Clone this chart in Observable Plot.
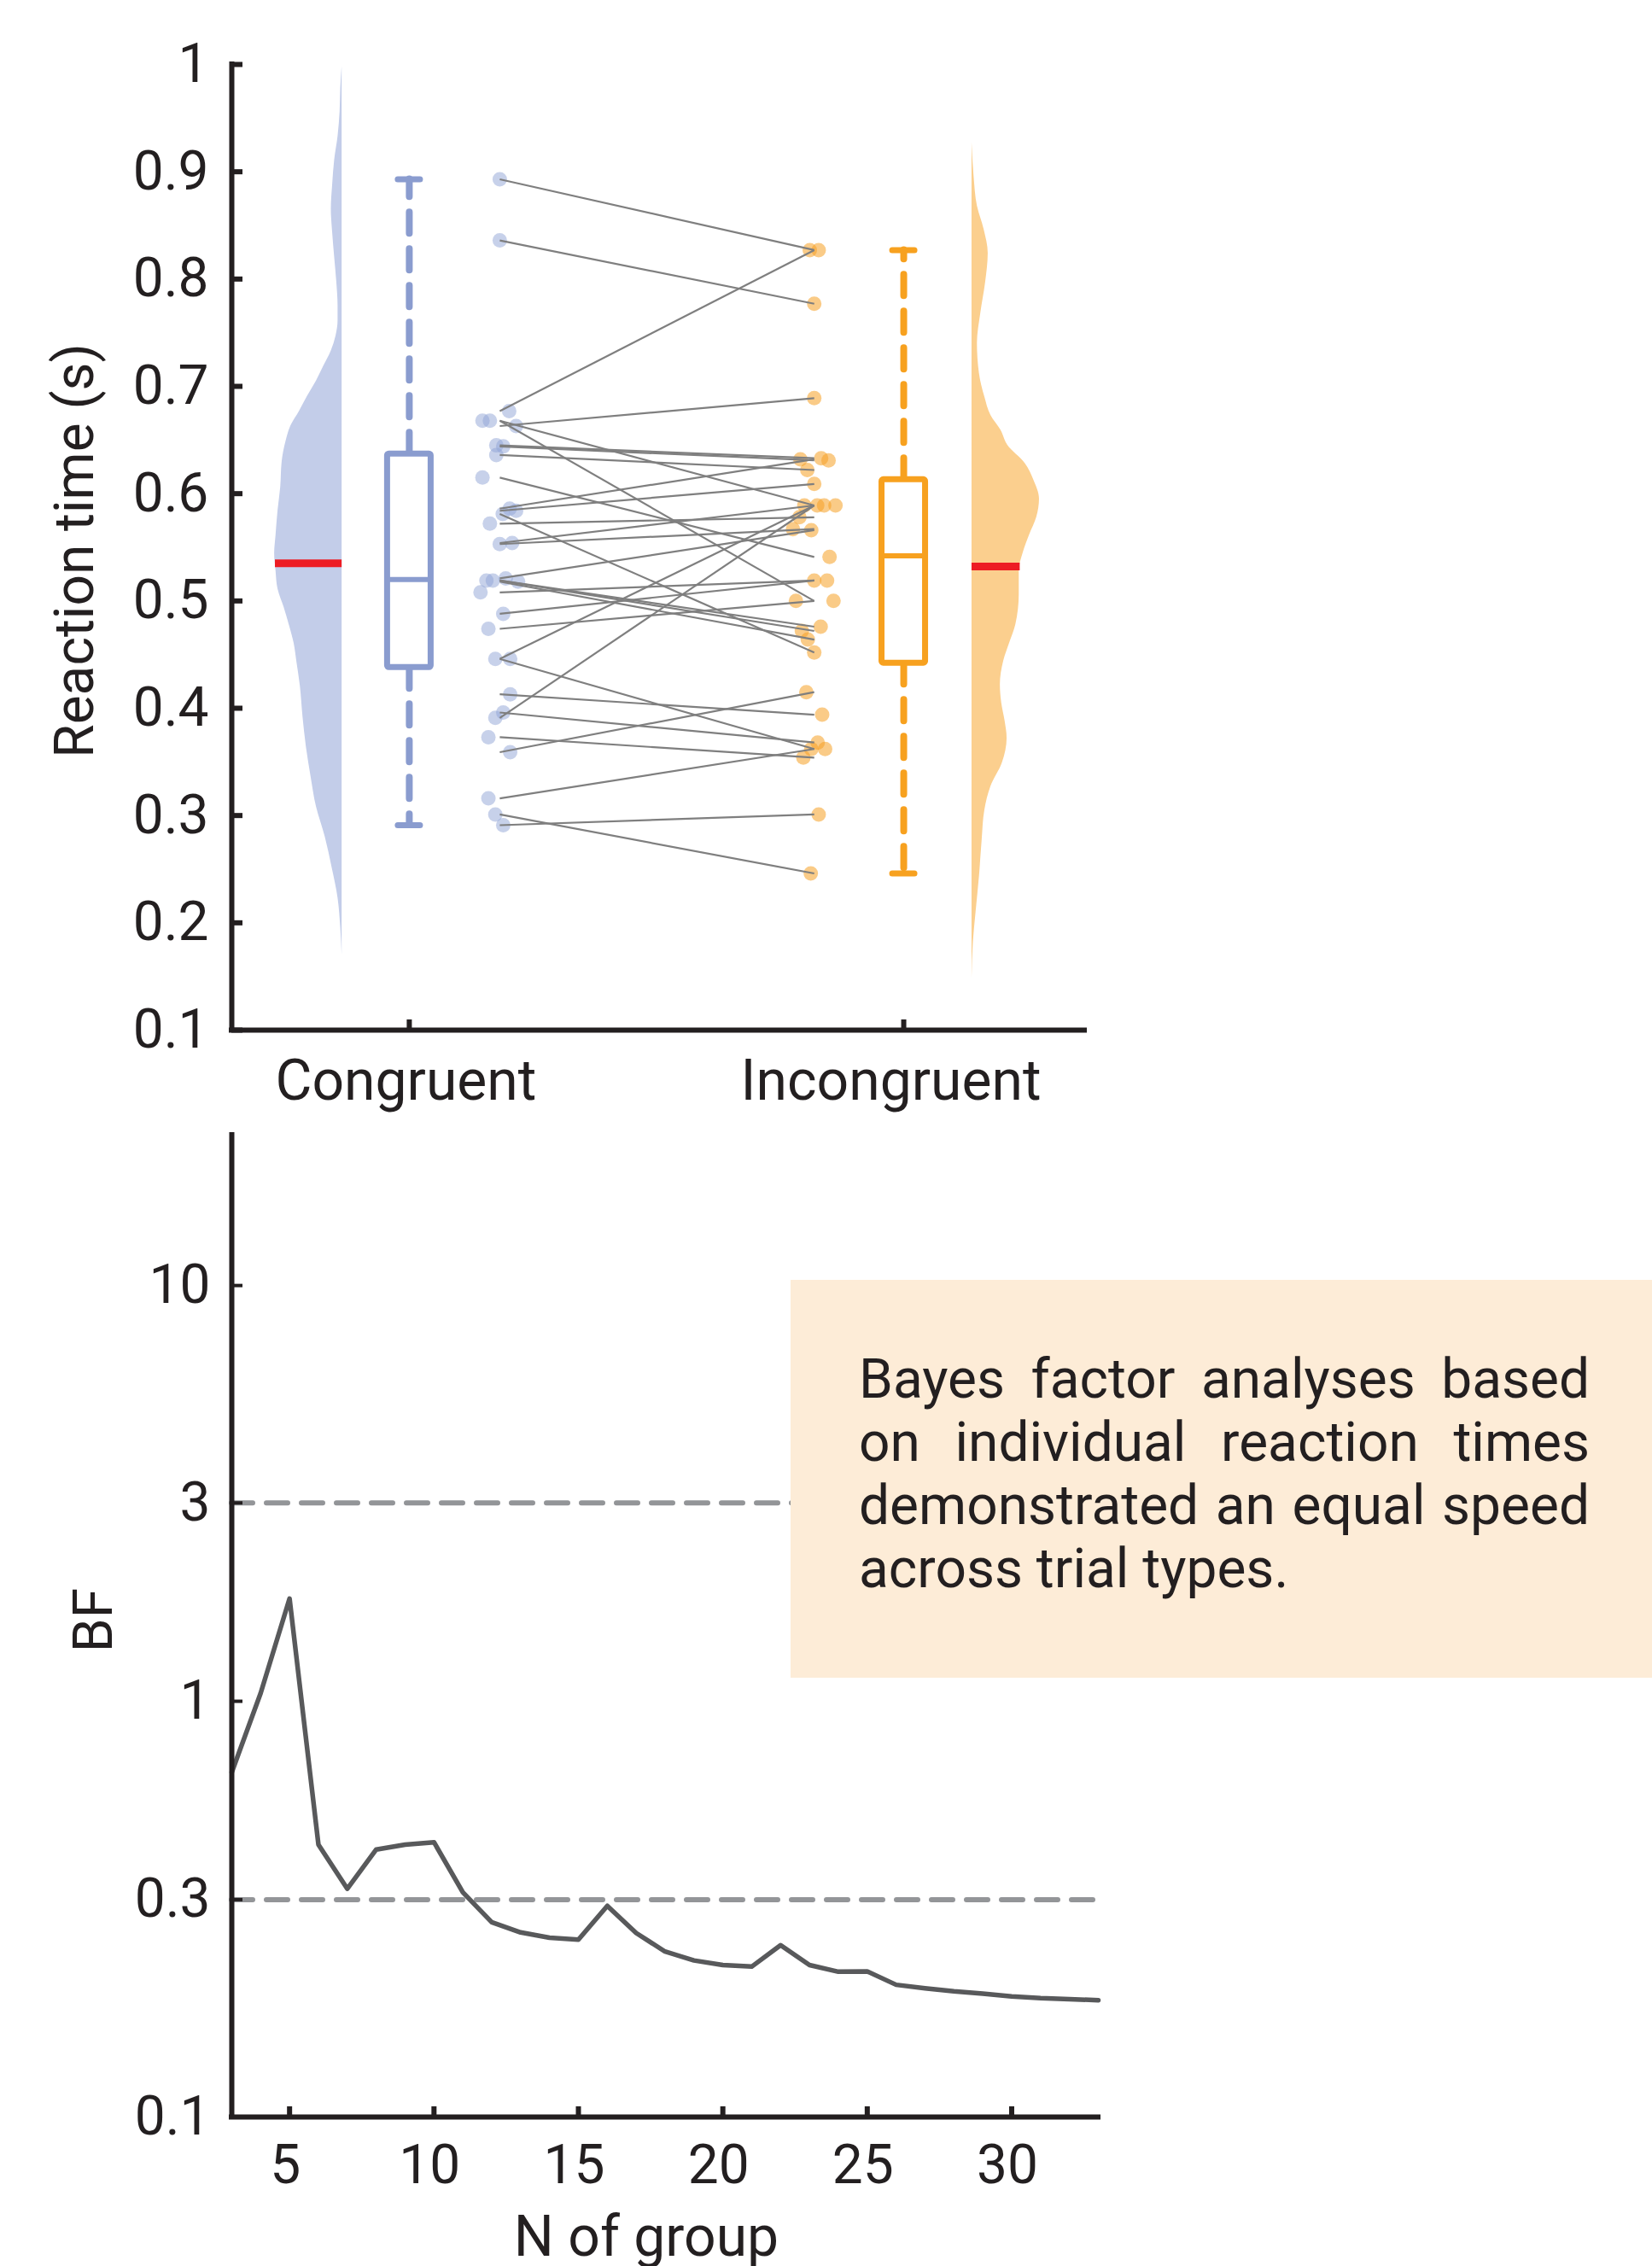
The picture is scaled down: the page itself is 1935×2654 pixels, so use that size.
<!DOCTYPE html>
<html>
<head>
<meta charset="utf-8">
<script src="https://cdn.jsdelivr.net/npm/d3@7"></script>
<script src="https://cdn.jsdelivr.net/npm/@observablehq/plot@0.6"></script>
<style>
  html, body { margin: 0; padding: 0; background: #ffffff; }
  body { width: 1935px; height: 2654px; position: relative; overflow: hidden; font-family: Roboto, sans-serif; color: #231f20; }
  #top, #bottom { position: absolute; left: 0; }
  #top { top: 0; }
  #bottom { top: 1300px; }
  #note { position: absolute; left: 926px; top: 1499px; width: 1009px; height: 466px; background: #fdecd7; box-sizing: border-box; padding: 80px 0 0 80px; }
  #note .ln { width: 856px; font-size: 64px; line-height: 74px; text-align: justify; text-align-last: justify; white-space: nowrap; color: #231f20; }
  #note .ln.last { text-align: left; text-align-last: left; }
</style>
</head>
<body>
<div id="top"></div>
<div id="bottom"></div>
<div id="note"></div>
<script>
// ---------------- DATA ----------------
const categories = ["Congruent", "Incongruent"];

// paired individual reaction times (s), one entry per participant
const congruentRT = [0.893, 0.836, 0.677, 0.668, 0.668, 0.663, 0.645, 0.644, 0.636, 0.615, 0.586, 0.584, 0.581, 0.572, 0.554, 0.553, 0.521, 0.519, 0.519, 0.518, 0.508, 0.488, 0.474, 0.446, 0.446, 0.413, 0.396, 0.391, 0.373, 0.359, 0.316, 0.301, 0.291];
const incongruentRT = [0.827, 0.777, 0.827, 0.589, 0.500, 0.689, 0.633, 0.631, 0.622, 0.541, 0.632, 0.609, 0.452, 0.578, 0.589, 0.567, 0.566, 0.476, 0.472, 0.464, 0.519, 0.519, 0.500, 0.589, 0.362, 0.394, 0.368, 0.589, 0.354, 0.415, 0.362, 0.246, 0.301];
// horizontal jitter of the dots (x units)
const congruentJitter = [0, 0, 0.019, -0.035, -0.020, 0.033, -0.007, 0.007, -0.007, -0.035, 0.020, 0.033, 0.006, -0.020, 0.025, 0, 0.012, -0.027, -0.014, 0.037, -0.039, 0.007, -0.023, -0.009, 0.021, 0.021, 0.007, -0.009, -0.023, 0.021, -0.023, -0.009, 0.007];
const incongruentJitter = [0.009, 0, -0.009, -0.020, -0.037, 0, 0.014, 0.029, -0.014, 0.031, -0.028, 0, 0, -0.030, 0.006, -0.043, -0.006, 0.013, -0.025, -0.013, 0, 0.026, 0.039, 0.020, 0.022, 0.016, 0.007, 0.043, -0.022, -0.016, -0.006, -0.007, 0.009];

// box plot statistics
const boxLow = [0.291, 0.246];
const boxQ1 = [0.438, 0.442];
const boxMedian = [0.520, 0.542];
const boxQ3 = [0.637, 0.613];
const boxHigh = [0.893, 0.827];
const meanRT = [0.535, 0.532];

// half-violin density profiles (relative density at RT levels)
const densityLevelsC = [0.998, 0.978, 0.956, 0.933, 0.911, 0.888, 0.865, 0.843, 0.820, 0.798, 0.775, 0.761, 0.747, 0.733, 0.719, 0.705, 0.691, 0.677, 0.663, 0.649, 0.629, 0.606, 0.584, 0.561, 0.544, 0.528, 0.511, 0.494, 0.477, 0.460, 0.443, 0.421, 0.392, 0.364, 0.336, 0.308, 0.280, 0.252, 0.223, 0.195, 0.170];
const densityC = [0, 0.02, 0.03, 0.06, 0.11, 0.14, 0.16, 0.14, 0.11, 0.08, 0.06, 0.06, 0.09, 0.16, 0.27, 0.38, 0.51, 0.63, 0.76, 0.83, 0.89, 0.91, 0.95, 0.98, 1, 0.98, 0.95, 0.86, 0.78, 0.71, 0.67, 0.62, 0.58, 0.53, 0.46, 0.38, 0.25, 0.15, 0.06, 0.02, 0];
const densityLevelsI = [0.927, 0.896, 0.868, 0.846, 0.824, 0.796, 0.768, 0.740, 0.712, 0.690, 0.673, 0.659, 0.645, 0.628, 0.612, 0.595, 0.578, 0.561, 0.545, 0.528, 0.506, 0.478, 0.461, 0.444, 0.422, 0.405, 0.388, 0.372, 0.349, 0.327, 0.305, 0.277, 0.243, 0.210, 0.182, 0.148];
const densityI = [0, 0.03, 0.08, 0.18, 0.24, 0.20, 0.13, 0.08, 0.11, 0.19, 0.28, 0.43, 0.53, 0.79, 0.92, 1, 0.96, 0.85, 0.76, 0.70, 0.70, 0.65, 0.56, 0.47, 0.42, 0.44, 0.49, 0.52, 0.45, 0.28, 0.19, 0.15, 0.11, 0.06, 0.02, 0];

const rtTicks = [0.1, 0.2, 0.3, 0.4, 0.5, 0.6, 0.7, 0.8, 0.9, 1];
const rtTickLabels = ["0.1", "0.2", "0.3", "0.4", "0.5", "0.6", "0.7", "0.8", "0.9", "1"];

// Bayes factor by group size
const groupN = [3, 4, 5, 6, 7, 8, 9, 10, 11, 12, 13, 14, 15, 16, 17, 18, 19, 20, 21, 22, 23, 24, 25, 26, 27, 28, 29, 30, 31, 32, 33];
const bayesFactor = [0.675, 1.046, 1.766, 0.452, 0.354, 0.440, 0.452, 0.458, 0.347, 0.294, 0.278, 0.270, 0.267, 0.322, 0.277, 0.250, 0.238, 0.232, 0.230, 0.259, 0.232, 0.2236, 0.224, 0.208, 0.204, 0.2006, 0.198, 0.195, 0.1931, 0.192, 0.191];
const bfThresholds = [3, 1 / 3];
const bfTicks = [0.1, 1 / 3, 1, 3, 10];
const bfTickLabels = ["0.1", "0.3", "1", "3", "10"];
const nTicks = [5, 10, 15, 20, 25, 30];

const noteLines = ["Bayes factor analyses based", "on individual reaction times", "demonstrated an equal speed", "across trial types."];

// ---------------- LAYOUT / STYLE ----------------
const ink = "#231f20";
const blue = "#8a9ccf", blueLight = "#c3cde9", blueDot = "#8fa3d6";
const orange = "#f7a11f", orangeLight = "#fbcf8e", orangeDot = "#f5a125";
const catColor = [blue, orange], catLight = [blueLight, orangeLight];
const pxUnit = 579;                     // pixels per x unit (top chart)
const xDomainTop = [0.641, 2.366];
const catPos = [1, 2];
const catLabelDx = [-4, -15];
const violinEdge = [0.864, 2.138];
const violinDir = [-1, 1];
const violinMax = 79 / pxUnit;
const boxHalf = 25.5 / pxUnit;
const capHalf = 13 / pxUnit;
const linkX = [1.183, 1.819];

function densAt(levels, dens, v) {
  for (let i = 0; i < levels.length - 1; i++) {
    if (levels[i] >= v && v >= levels[i + 1]) {
      const t = (levels[i] - v) / (levels[i] - levels[i + 1]);
      return dens[i] + t * (dens[i + 1] - dens[i]);
    }
  }
  return 0;
}

const profiles = [
  densityLevelsC.map((v, i) => ({v, d: densityC[i], k: 0})),
  densityLevelsI.map((v, i) => ({v, d: densityI[i], k: 1}))
];
const stats = categories.map((c, k) => ({
  k, pos: catPos[k], lo: boxLow[k], q1: boxQ1[k], med: boxMedian[k], q3: boxQ3[k], hi: boxHigh[k],
  mean: meanRT[k], color: catColor[k],
  meanW: densAt(k === 0 ? densityLevelsC : densityLevelsI, k === 0 ? densityC : densityI, meanRT[k]) * violinMax
}));
const pairs = congruentRT.map((c, i) => ({c, i: incongruentRT[i], jc: congruentJitter[i], ji: incongruentJitter[i]}));

// ---------------- TOP CHART ----------------
const topH = 1330, topMT = 75, topMB = topH - 1206, topML = 271, topMR = 1935 - 1270;
const topFrameW = 1935 - topML - topMR, topFrameH = topH - topMT - topMB;

const violinMarks = profiles.map((p, k) => Plot.areaX(p, {
  y: "v",
  x1: violinEdge[k],
  x2: d => violinEdge[k] + violinDir[k] * d.d * violinMax,
  fill: catLight[k],
  curve: "monotone-y"
}));

const catLabelMarks = catPos.map((p, k) => Plot.axisX([p], {
  tickSize: 0, tickPadding: 35, fontSize: 66, dx: catLabelDx[k],
  tickFormat: () => categories[k], label: null
}));

const topPlot = Plot.plot({
  width: 1935, height: topH,
  marginLeft: topML, marginRight: topMR, marginTop: topMT, marginBottom: topMB,
  x: {domain: xDomainTop, axis: null},
  y: {domain: [0.1, 1], axis: null},
  color: {type: "identity"},
  style: {fontFamily: "Roboto, sans-serif", background: "transparent", color: ink, overflow: "visible"},
  marks: [
    ...violinMarks,
    Plot.ruleY(stats, {y: "mean", x1: d => violinEdge[d.k], x2: d => violinEdge[d.k] + violinDir[d.k] * d.meanW, stroke: "#ed1c24", strokeWidth: 9}),
    // whiskers
    Plot.ruleX(stats, {x: "pos", y1: "q3", y2: "hi", stroke: "color", strokeWidth: 8, strokeDasharray: "25,18", strokeLinecap: "round"}),
    Plot.ruleX(stats, {x: "pos", y1: "q1", y2: "lo", stroke: "color", strokeWidth: 8, strokeDasharray: "25,18", strokeLinecap: "round"}),
    Plot.ruleY(stats, {y: "hi", x1: d => d.pos - capHalf, x2: d => d.pos + capHalf, stroke: "color", strokeWidth: 7, strokeLinecap: "round"}),
    Plot.ruleY(stats, {y: "lo", x1: d => d.pos - capHalf, x2: d => d.pos + capHalf, stroke: "color", strokeWidth: 7, strokeLinecap: "round"}),
    // box
    Plot.rect(stats, {x1: d => d.pos - boxHalf, x2: d => d.pos + boxHalf, y1: "q1", y2: "q3", fill: "white", stroke: "color", strokeWidth: 7, rx: 2}),
    Plot.ruleY(stats, {y: "med", x1: d => d.pos - boxHalf, x2: d => d.pos + boxHalf, stroke: "color", strokeWidth: 6}),
    // dots
    Plot.dot(pairs, {x: d => linkX[0] + d.jc, y: "c", r: 8.5, fill: blueDot, fillOpacity: 0.5, stroke: "none"}),
    Plot.dot(pairs, {x: d => linkX[1] + d.ji, y: "i", r: 8.5, fill: orangeDot, fillOpacity: 0.55, stroke: "none"}),
    // connecting lines
    Plot.link(pairs, {x1: linkX[0], y1: "c", x2: linkX[1], y2: "i", stroke: "#7f7f7f", strokeWidth: 2.2}),
    // axes lines
    Plot.ruleX([xDomainTop[0]], {stroke: ink, strokeWidth: 6, strokeLinecap: "square"}),
    Plot.ruleY([0.1], {stroke: ink, strokeWidth: 6, strokeLinecap: "square"}),
    // inward ticks
    Plot.ruleY(rtTicks, {y: d => d, insetRight: topFrameW - 13, stroke: ink, strokeWidth: 6}),
    Plot.ruleX(catPos, {x: d => d, insetTop: topFrameH - 12, stroke: ink, strokeWidth: 6}),
    // tick labels
    Plot.axisY(rtTicks, {tickSize: 0, tickPadding: 27, fontSize: 64, tickFormat: d => rtTickLabels[rtTicks.indexOf(d)], label: null}),
    ...catLabelMarks,
    Plot.text(["Reaction time (s)"], {frameAnchor: "left", dx: -183, dy: 4, rotate: -90, fontSize: 64, textAnchor: "middle", lineAnchor: "middle", fill: ink})
  ]
});
document.getElementById("top").appendChild(topPlot);

// ---------------- BOTTOM CHART ----------------
const botH = 1354, botMT = 29, botMB = botH - 1179, botML = 271, botMR = 1935 - 1286;
const botFrameW = 1935 - botML - botMR, botFrameH = botH - botMT - botMB;
const bfData = groupN.map((n, i) => ({n, bf: bayesFactor[i]}));

const botPlot = Plot.plot({
  width: 1935, height: botH,
  marginLeft: botML, marginRight: botMR, marginTop: botMT, marginBottom: botMB,
  x: {domain: [3, 33], axis: null},
  y: {type: "log", domain: [0.1, 23], axis: null},
  style: {fontFamily: "Roboto, sans-serif", background: "transparent", color: ink, overflow: "visible"},
  marks: [
    Plot.ruleY(bfThresholds, {stroke: "#939598", strokeWidth: 6, strokeDasharray: "25,16", strokeLinecap: "round"}),
    Plot.line(bfData, {x: "n", y: "bf", stroke: "#58595b", strokeWidth: 5.5, strokeLinejoin: "round"}),
    Plot.ruleX([3], {stroke: ink, strokeWidth: 6, strokeLinecap: "square"}),
    Plot.ruleY([0.1], {stroke: ink, strokeWidth: 6, strokeLinecap: "square"}),
    Plot.ruleY(bfTicks, {y: d => d, insetRight: botFrameW - 13, stroke: ink, strokeWidth: 4}),
    Plot.ruleX(nTicks, {x: d => d, insetTop: botFrameH - 12, stroke: ink, strokeWidth: 6}),
    Plot.axisY(bfTicks, {tickSize: 0, tickPadding: 25, fontSize: 64, tickFormat: d => bfTickLabels[bfTicks.indexOf(d)], label: null}),
    Plot.axisX(nTicks, {tickSize: 0, tickPadding: 32, fontSize: 64, dx: -5, tickFormat: d => String(d), label: null}),
    Plot.text(["BF"], {frameAnchor: "left", dx: -161, dy: -7, rotate: -90, fontSize: 64, textAnchor: "middle", lineAnchor: "middle", fill: ink}),
    Plot.text(["N of group"], {frameAnchor: "bottom", dx: -22, dy: 116, fontSize: 66, textAnchor: "middle", lineAnchor: "top", fill: ink})
  ]
});
document.getElementById("bottom").appendChild(botPlot);

// ---------------- NOTE BOX ----------------
const note = document.getElementById("note");
noteLines.forEach((t, i) => {
  const d = document.createElement("div");
  d.className = "ln" + (i === noteLines.length - 1 ? " last" : "");
  d.textContent = t;
  note.appendChild(d);
});
</script>
</body>
</html>
